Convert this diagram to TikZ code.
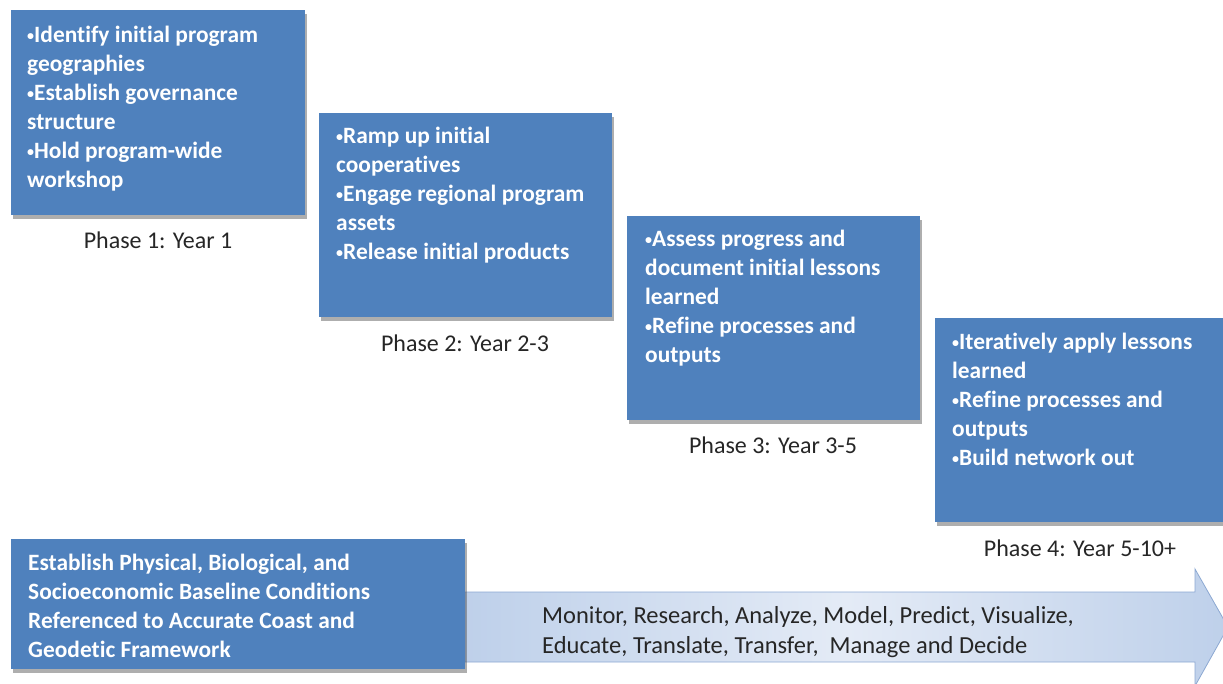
\documentclass[tikz,border=0pt]{standalone}
\usepackage{fontspec}
\setmainfont{Carlito}[RawFeature={-liga}]
\usetikzlibrary{shadows}
\definecolor{boxblue}{RGB}{79,129,189}
\definecolor{arrowedge}{RGB}{140,168,210}
\definecolor{arrowA}{RGB}{190,208,234}
\definecolor{arrowB}{RGB}{228,235,246}
\definecolor{labelgray}{RGB}{38,38,38}
\newcommand\bul{\raisebox{0.18ex}{\scalebox{0.6}{•}}}
\begin{document}
\begin{tikzpicture}[x=1pt,y=-1pt,
  phasebox/.style={fill=boxblue, draw=none, inner sep=0pt, anchor=north west,
    drop shadow={shadow xshift=2pt, shadow yshift=-3.5pt, opacity=0.45, fill=black!70}},
  boxtext/.style={font=\fontsize{23.4}{29}\selectfont\bfseries, text=white, align=left,
    anchor=north west, inner sep=0pt},
  phaselabel/.style={font=\fontsize{24}{28}\selectfont, text=labelgray, anchor=base, inner sep=0pt},
  arrowtext/.style={font=\fontsize{24.5}{30}\selectfont, text=labelgray, align=left,
    anchor=north west, inner sep=0pt}
]
\useasboundingbox (0,0) rectangle (1223,683);

% big arrow
\path[draw=arrowedge, line width=0.8pt, left color=arrowA, right color=arrowA, middle color=arrowB]
  (465,592) -- (1195,592) -- (1195,569) -- (1228,627) -- (1195,686) -- (1195,662) -- (465,662) -- cycle;

% phase boxes
\node[phasebox, minimum width=294pt, minimum height=205pt] (b1) at (11,10) {};
\node[phasebox, minimum width=293pt, minimum height=204pt] (b2) at (319,113) {};
\node[phasebox, minimum width=293pt, minimum height=204pt] (b3) at (627,216) {};
\node[phasebox, minimum width=290pt, minimum height=204pt] (b4) at (935,318) {};
\node[phasebox, minimum width=454pt, minimum height=130pt] (b5) at (11,539) {};

\node[boxtext] (t1) at (27,26) {\bul Identify initial program\\geographies\\\bul Establish governance\\structure\\\bul Hold program-wide\\workshop};
\node[boxtext] (t2) at (336,127) {\bul Ramp up initial\\cooperatives\\\bul Engage regional program\\assets\\\bul Release initial products};
\node[boxtext] (t3) at (645,230) {\bul Assess progress and\\document initial lessons\\learned\\\bul Refine processes and\\outputs};
\node[boxtext] (t4) at (952,333) {\bul Iteratively apply lessons\\learned\\\bul Refine processes and\\outputs\\\bul Build network out};
\node[boxtext] (t5) at (28,554) {Establish Physical, Biological, and\\Socioeconomic Baseline Conditions\\Referenced to Accurate Coast and\\Geodetic Framework};

\node[arrowtext] (at) at (542,606) {Monitor, Research, Analyze, Model, Predict, Visualize,\\Educate, Translate, Transfer, \ Manage and Decide};

\node[phaselabel] (p1) at (158,248) {Phase 1: Year 1};
\node[phaselabel] (p2) at (465,351) {Phase 2: Year 2-3};
\node[phaselabel] (p3) at (773,453) {Phase 3: Year 3-5};
\node[phaselabel] (p4) at (1080,556) {Phase 4: Year 5-10+};
\end{tikzpicture}
\end{document}
